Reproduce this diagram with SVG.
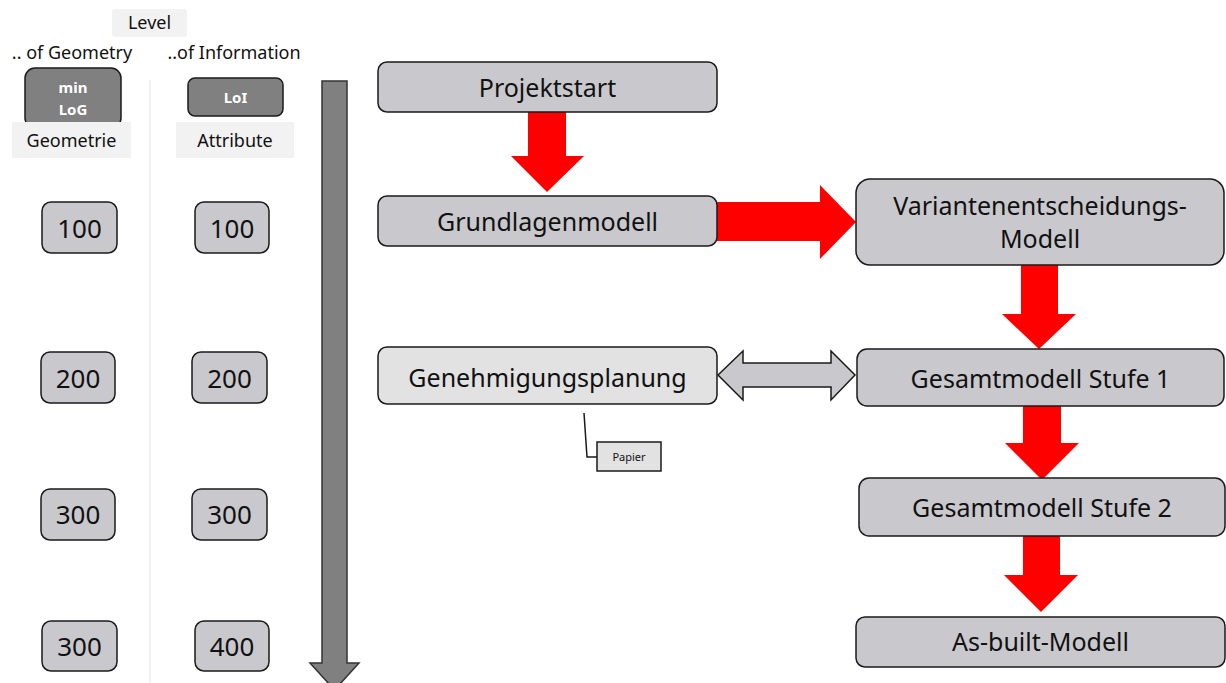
<svg xmlns="http://www.w3.org/2000/svg" width="1226" height="683" viewBox="0 0 1226 683">
<style>
.box{fill:#c9c9cd;stroke:#1a1a1a;stroke-width:1.5}
.lbox{fill:#e2e2e2;stroke:#1a1a1a;stroke-width:1.5}
.dbox{fill:#808080;stroke:#1a1a1a;stroke-width:1.5}
.hdr{fill:#f2f2f2}
.t{font-family:"Noto Sans","DejaVu Sans",sans-serif;fill:#111;text-anchor:middle}
.big{font-size:25px}
.num{font-size:26px}
.sm{font-size:18px}
.wh{font-family:"Noto Sans","DejaVu Sans",sans-serif;fill:#fff;font-weight:bold;font-size:15px;text-anchor:middle}
.red{fill:#ff0000}
.gray{fill:#808080;stroke:#333;stroke-width:1.5}
</style>
<rect width="1226" height="683" fill="#fff"/>
<g id="header">
<rect class="hdr" x="112" y="9" width="75" height="28" rx="3"/>
<text class="t sm" x="149.5" y="29">Level</text>
<text class="t sm" x="72" y="59">.. of Geometry</text>
<text class="t sm" x="234" y="59">..of Information</text>
<line x1="150" y1="80" x2="150" y2="683" stroke="#eeeeee" stroke-width="1.5"/>
</g>
<g id="minLoG">
<rect class="dbox" x="25" y="68" width="96" height="60" rx="10"/>
<text class="wh" x="73" y="93">min</text>
<text class="wh" x="73" y="115">LoG</text>
</g>
<g id="geometrie">
<rect class="hdr" x="12" y="122" width="119" height="36"/>
<text class="t sm" x="71.5" y="147">Geometrie</text>
</g>
<g id="LoI">
<rect class="dbox" x="188" y="78" width="95" height="38" rx="7"/>
<text class="wh" x="235.5" y="103">LoI</text>
</g>
<g id="attribute">
<rect class="hdr" x="176" y="122" width="118" height="36"/>
<text class="t sm" x="235" y="147">Attribute</text>
</g>
<g id="g100"><rect class="box" x="42" y="202" width="75" height="51" rx="9"/><text class="t num" x="79.5" y="238">100</text></g>
<g id="i100"><rect class="box" x="195" y="202" width="74" height="51" rx="9"/><text class="t num" x="232" y="238">100</text></g>
<g id="g200"><rect class="box" x="41" y="352" width="74" height="51" rx="9"/><text class="t num" x="78" y="388">200</text></g>
<g id="i200"><rect class="box" x="192" y="352" width="75" height="51" rx="9"/><text class="t num" x="229.5" y="388">200</text></g>
<g id="g300"><rect class="box" x="41" y="489" width="74" height="51" rx="9"/><text class="t num" x="78" y="524">300</text></g>
<g id="i300"><rect class="box" x="192" y="489" width="75" height="51" rx="9"/><text class="t num" x="229.5" y="524">300</text></g>
<g id="g300b"><rect class="box" x="42" y="621" width="75" height="50" rx="9"/><text class="t num" x="79.5" y="656">300</text></g>
<g id="i400"><rect class="box" x="195" y="621" width="74" height="50" rx="9"/><text class="t num" x="232" y="656">400</text></g>
<g id="timeline">
<polygon class="gray" points="322,81 347,81 347,663 359,663 334.5,690 310,663 322,663"/>
</g>
<g id="connectors">
<polygon class="red" points="528,112 566,112 566,156 584,156 547,192 511,156 528,156"/>
<polygon class="red" points="717,202 820,202 820,185 856,222 820,259 820,241 717,241"/>
<polygon class="red" points="1021,265 1058,265 1058,314 1076,314 1039,349 1002,314 1021,314"/>
<polygon class="red" points="1023,406 1061,406 1061,443 1079,443 1042,480 1005,443 1023,443"/>
<polygon class="red" points="1023,536 1060,536 1060,575 1078,575 1041,612 1004,575 1023,575"/>
<polygon fill="#c9c9cd" stroke="#1a1a1a" stroke-width="1.5" points="718,375 743,351 743,363 831,363 831,351 855,375 831,400 831,387 743,387 743,400"/>
<polyline points="584,413 587,457 597,457" fill="none" stroke="#1a1a1a" stroke-width="1.5"/>
</g>
<g id="projektstart"><rect class="box" x="378" y="62" width="339" height="50" rx="9"/><text class="t big" x="547.5" y="97">Projektstart</text></g>
<g id="grundlagenmodell"><rect class="box" x="378" y="196" width="339" height="50" rx="9"/><text class="t big" x="547.5" y="231">Grundlagenmodell</text></g>
<g id="variantenentscheidung"><rect class="box" x="856" y="179" width="368" height="86" rx="14"/><text class="t big" x="1040" y="215">Variantenentscheidungs-</text><text class="t big" x="1040" y="248">Modell</text></g>
<g id="genehmigungsplanung"><rect class="lbox" x="378" y="347" width="339" height="57" rx="9"/><text class="t big" x="547.5" y="387">Genehmigungsplanung</text></g>
<g id="papier"><rect class="lbox" x="597" y="442" width="64" height="29"/><text class="t" style="font-size:11px" x="629" y="461">Papier</text></g>
<g id="stufe1"><rect class="box" x="857" y="349" width="367" height="57" rx="10"/><text class="t big" x="1040.5" y="388">Gesamtmodell Stufe 1</text></g>
<g id="stufe2"><rect class="box" x="859" y="478" width="366" height="58" rx="10"/><text class="t big" x="1042" y="517">Gesamtmodell Stufe 2</text></g>
<g id="asbuilt"><rect class="box" x="856" y="617" width="369" height="50" rx="9"/><text class="t big" x="1040.5" y="651">As-built-Modell</text></g>
</svg>
